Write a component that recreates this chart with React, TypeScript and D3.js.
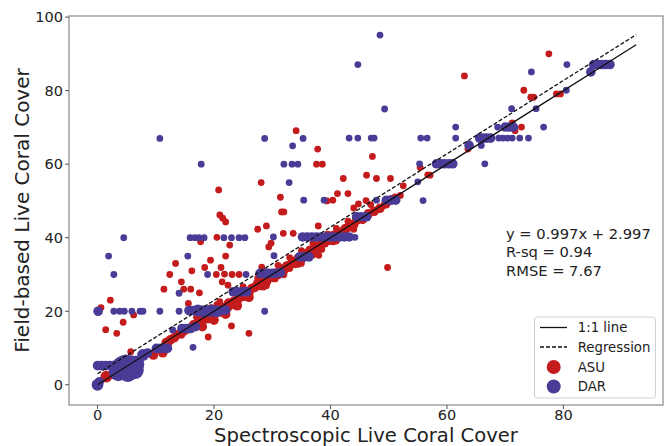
import React from "react";
import * as d3 from "d3";

// ---------- DATA ----------
// [spectroscopic %, field %, n overlapping observations]
const asuPoints: number[][] = [
  [1.5, 2.2, 3], [0.6, 21, 1], [2.2, 23, 1], [1.4, 15, 1], [3.3, 14, 1], [4.4, 17, 1], [6.2, 19, 1],
  [5.7, 9, 1], [9.6, 8.1, 2], [11.2, 8.7, 2], [12.0, 11.2, 2],
  [11.4, 26, 1], [12.4, 30, 1], [13.4, 33, 1], [14.4, 28, 1], [14.8, 26, 1], [16.0, 26, 1], [16.2, 31, 1],
  [15.6, 22.1, 1], [17.5, 25, 1], [18.4, 31.9, 1], [19.4, 33.9, 1], [20.5, 40.1, 1], [17.7, 38.9, 1],
  [22, 35, 1], [22.7, 38, 1], [21.2, 31.9, 1], [21.8, 30.1, 1], [21.4, 28, 1], [22.4, 27.1, 1],
  [23.1, 30, 1], [24.3, 30, 1], [20.4, 30, 1], [21, 46.2, 1], [21.5, 45.3, 1], [22, 44.3, 1],
  [20.8, 53, 1], [28.1, 55, 1], [31.4, 51, 1], [31.6, 47, 1], [32, 47, 1], [34.1, 69.1, 1],
  [37.8, 64.1, 1], [37.6, 60, 1], [38.6, 60, 1], [39.4, 50, 1], [40.4, 50.2, 1], [41.2, 52, 1],
  [43.0, 52, 1], [42.2, 56.1, 1], [46.2, 57, 1], [47.9, 56.1, 1], [50.3, 56.1, 1], [47.2, 62.1, 1],
  [27.5, 42.3, 1], [29.0, 43.2, 1], [31.9, 41.2, 1], [33.6, 41.2, 1], [37.9, 43.2, 1], [29.8, 38.5, 1],
  [29.4, 37.5, 1], [28.2, 32, 1], [38, 35.2, 1], [44.0, 48.1, 1], [44.8, 49.2, 1], [46.1, 50.1, 1],
  [55.4, 59.1, 1], [56.7, 57.1, 1], [57.1, 57, 1], [46.9, 49, 1], [51.1, 51.1, 1], [52.5, 54.1, 1],
  [19, 13, 1], [23, 16, 1], [26, 14, 1], [49.8, 31.9, 1],
  [63, 84, 1], [77.5, 90, 1], [73.2, 80.1, 1], [74.4, 78.2, 1], [74.9, 78.2, 1], [78.8, 79.1, 1],
  [79.5, 79.1, 1], [71.2, 71.2, 1], [71.7, 69.1, 1], [72.8, 70.1, 1], [63.6, 64.1, 1],
  // band along the 1:1 line
  [8.5, 8.8, 1], [10.5, 9.6, 1], [11.8, 11.5, 2], [12.5, 12.2, 2], [13.2, 12.8, 2], [13.6, 14, 1],
  [14.3, 13.8, 2], [14.8, 14.6, 2], [15.5, 15.2, 2], [16.0, 15.5, 2], [16.5, 16.3, 2], [17.0, 16.0, 2],
  [17.5, 17.2, 2], [18.0, 17.5, 2], [18.5, 18.2, 2], [19.0, 18.0, 2], [19.5, 19.3, 2], [20.0, 19.0, 2],
  [20.5, 20.3, 2], [21.0, 19.8, 2], [21.5, 21.0, 2], [22.0, 20.5, 2], [22.5, 22.2, 2], [23.0, 21.8, 2],
  [23.5, 22.8, 2], [24.0, 23.0, 2], [24.5, 24.2, 2], [25.0, 24.0, 2], [25.5, 25.3, 2], [26.0, 25.0, 2],
  [26.5, 26.2, 2], [27.0, 26.5, 2], [27.5, 27.5, 2], [28.0, 27.0, 2], [28.5, 28.3, 2], [29.0, 28.0, 2],
  [29.5, 29.5, 2], [30.0, 29.2, 2], [30.5, 30.3, 2], [31.0, 30.0, 2], [31.5, 31.5, 2], [32.0, 31.2, 2],
  [32.5, 32.3, 2], [33.0, 32.5, 2], [33.5, 33.5, 2], [34.0, 33.0, 2], [34.5, 34.5, 2], [35.0, 34.2, 2],
  [35.5, 35.6, 2], [36.0, 35.3, 2], [36.5, 36.6, 2], [37.0, 36.2, 2], [37.5, 37.5, 2], [38.0, 37.2, 2],
  [38.5, 38.5, 2], [39.0, 38.6, 2], [39.5, 39.6, 2], [40.0, 39.3, 2], [40.5, 40.6, 2], [41.0, 40.4, 2],
  [41.5, 41.5, 2], [42.0, 41.3, 2], [42.5, 42.4, 2], [43.0, 42.8, 2], [43.5, 43.5, 2], [44.0, 43.6, 2],
  [44.5, 44.8, 2], [45.5, 45.0, 2], [46.5, 46.5, 2], [47.5, 47.2, 2], [48.5, 48.0, 2], [49.5, 49.2, 2],
  [50.5, 50.3, 2], [52.0, 51.5, 1],
  [20.5, 21.8, 1], [22.5, 20.8, 1], [25.5, 23.8, 1], [28.5, 26.6, 1], [30.5, 28.8, 1], [33.0, 31.6, 1],
  [34.5, 32.8, 1], [36.5, 35.0, 1], [38.5, 36.8, 1], [40.5, 38.9, 1], [19.5, 21.0, 1], [24.0, 25.5, 1],
  [27.5, 29.0, 1], [31.0, 32.5, 1], [35.0, 36.5, 1], [39.5, 41.0, 1], [43, 44.5, 1],
  [18, 15.8, 2], [20, 17.6, 2], [22, 19.2, 2], [24, 21.5, 2], [26, 23.8, 2], [29, 26.9, 1], [32, 29.9, 1],
  [35, 33.0, 1], [37, 35.3, 1], [41, 39.1, 1], [44, 42.3, 1],
  [17, 18.4, 1], [21, 22.6, 1], [25, 26.7, 1], [29, 30.7, 1], [33, 34.6, 1], [37, 38.5, 1], [41, 42.5, 1],
];

const darPoints: number[][] = [
  [0, 0, 3], [0.3, 0.8, 2],
  [0, 5.2, 2], [0.7, 5.2, 2], [1.4, 5.2, 2], [2.1, 5.2, 2], [2.7, 5.2, 2],
  [3.6, 3.6, 8], [4.4, 4.6, 12], [5.6, 4.8, 12], [4.8, 5.8, 7], [6.4, 4.0, 7], [5.2, 3.2, 7], [6.6, 5.6, 6],
  [7.8, 8.1, 3], [8.6, 8.6, 2],
  [10.1, 9.9, 2], [10.8, 9.9, 2], [11.5, 9.9, 2], [12.0, 9.9, 2],
  [12.9, 14.9, 1], [14.5, 15.3, 2], [15.2, 15.3, 2], [16.0, 15.3, 2], [16.8, 15.8, 2], [16.4, 10.2, 1],
  [0.1, 20, 2], [2.8, 20, 1], [3.8, 20, 1], [4.6, 20, 1], [5.9, 20, 1], [7.3, 20, 1], [7.8, 20, 1],
  [10.7, 20, 1], [14.0, 20, 1],
  [15.7, 20.2, 2], [16.5, 20.2, 2], [17.2, 20.2, 3], [18.0, 20.0, 3], [18.8, 20.0, 3], [19.6, 20.2, 3],
  [20.4, 20.0, 3], [21.2, 20.2, 2], [22.0, 20.3, 2], [28.7, 20, 1],
  [14.0, 24.9, 1], [23.3, 25.3, 2], [24.0, 25.3, 2], [24.8, 25.3, 2], [25.6, 25.3, 2],
  [2.8, 30, 1], [18.9, 30, 1], [25.5, 30, 1], [27.9, 30.3, 2], [28.6, 30.3, 2], [29.3, 30.3, 2],
  [30.0, 30.3, 2], [30.7, 30.3, 2], [31.4, 30.5, 2],
  [1.9, 35, 1], [15.5, 35, 1], [30.3, 35.1, 1], [34.7, 34.8, 2], [35.5, 34.8, 2], [36.3, 34.8, 2],
  [4.5, 40, 1], [15.9, 40, 1], [16.7, 40, 1], [17.4, 40, 1], [18.3, 40, 1], [21.7, 40, 1], [23.0, 40, 1],
  [24.3, 40, 1], [25.3, 40, 1], [30.2, 40.2, 1], [35.2, 40.2, 2], [36.0, 40.2, 2], [36.8, 40.2, 2],
  [37.6, 40.2, 2], [38.4, 40.2, 2], [39.2, 40.2, 2], [40.0, 40.2, 2], [40.8, 40.2, 2], [41.6, 40.2, 2],
  [42.4, 40.2, 2], [43.2, 40.2, 2], [44.2, 40.1, 1],
  [44.5, 45.7, 2], [45.3, 45.7, 2], [46.2, 45.7, 2],
  [35.4, 50.2, 1], [38.9, 50.2, 1], [47.9, 50.2, 1], [49.6, 50.2, 2], [50.4, 50.2, 2], [51.2, 50.2, 2],
  [55.9, 50.1, 1], [32.9, 55, 1], [55.0, 55.2, 1],
  [17.8, 60, 1], [32.0, 60, 1], [33.4, 60, 1], [34.4, 60, 1], [55.3, 60.1, 1], [58.2, 60.1, 2],
  [58.9, 60.1, 2], [59.6, 60.1, 2], [60.3, 60.1, 2], [61.0, 60.1, 2], [66.5, 60.1, 1],
  [33.5, 65, 1], [63.8, 65.1, 2], [65.9, 65.1, 1],
  [10.7, 67, 1], [28.7, 67, 1], [35.3, 67, 1], [43.2, 67.1, 1], [44.7, 67.1, 1], [47.0, 67.1, 1],
  [47.5, 67.1, 1], [55.5, 67.1, 1], [56.6, 67.1, 1], [61.5, 67.1, 1], [65.6, 67.1, 2], [66.2, 67.1, 2],
  [66.8, 67.1, 2], [67.5, 67.1, 2], [68.9, 67.1, 1], [69.6, 67.1, 1], [70.4, 67.1, 1], [71.2, 67.1, 1],
  [72.5, 67.1, 1], [74.0, 67.1, 1],
  [61.5, 70.1, 1], [68.7, 70.1, 1], [70.0, 70.1, 2], [70.7, 70.1, 2], [71.4, 70.1, 2], [76.6, 70.1, 1],
  [49.3, 75, 1], [71.1, 75.1, 1], [75.3, 75.1, 1], [80.5, 80.1, 1],
  [74.5, 85.1, 1], [84.7, 85.1, 2],
  [44.7, 87.1, 1], [80.6, 87.1, 1], [85.2, 87.1, 2], [85.9, 87.1, 2], [86.6, 87.1, 2], [87.3, 87.1, 2],
  [88.0, 87.1, 2], [48.5, 95.1, 1],
];

const xTicks = [0, 20, 40, 60, 80];
const yTicks = [0, 20, 40, 60, 80, 100];
const lineRange = [0, 92.5];
const regSlope = 0.997;
const regIntercept = 2.997;
const statsLines = ["y = 0.997x + 2.997", "R-sq = 0.94", "RMSE = 7.67"];
const legendLabels = ["1:1 line", "Regression", "ASU", "DAR"];
const xTitle = "Spectroscopic Live Coral Cover";
const yTitle = "Field-based Live Coral Cover";

// ---------- CHART ----------
const W = 664, H = 446;
const M = { left: 69, right: 663, top: 16, bottom: 405 };
const RED = "#c41b1c";
const BLUE = "#4a3b97";
const FONT = "DejaVu Sans, sans-serif";

export default function App() {
  const x = d3.scaleLinear().domain([-4.9, 97.1]).range([M.left, M.right]);
  const y = d3.scaleLinear().domain([-5.5, 100.3]).range([M.bottom, M.top]);
  const r = d3.scaleSqrt().domain([0, 1]).range([0, 3.4]);

  const oneToOne = d3.line<number>().x((v) => x(v)).y((v) => y(v))(lineRange) || "";
  const reg = d3.line<number>().x((v) => x(v)).y((v) => y(regSlope * v + regIntercept))(lineRange) || "";

  const lg = { x: 534.5, y: 317, w: 121, h: 81 };
  const rowY = [327.5, 347, 367, 386.5];

  return (
    <svg width={W} height={H} style={{ position: "absolute", left: 0, top: 0, background: "#fff" }} fontFamily={FONT}>
      <rect x={0} y={0} width={W} height={H} fill="#fff" />
      <defs>
        <clipPath id="plot">
          <rect x={M.left} y={M.top} width={M.right - M.left} height={M.bottom - M.top} />
        </clipPath>
      </defs>
      <g clipPath="url(#plot)">
        {asuPoints.map((p, i) => (
          <circle key={"a" + i} cx={x(p[0])} cy={y(p[1])} r={r(p[2])} fill={RED} />
        ))}
        {darPoints.map((p, i) => (
          <circle key={"d" + i} cx={x(p[0])} cy={y(p[1])} r={r(p[2])} fill={BLUE} />
        ))}
        <path d={oneToOne} stroke="#111" strokeWidth={1.3} fill="none" />
        <path d={reg} stroke="#111" strokeWidth={1.3} fill="none" strokeDasharray="4,2" />
      </g>
      {/* frame */}
      <rect x={M.left} y={M.top} width={M.right - M.left} height={M.bottom - M.top} fill="none" stroke="#8a8a8a" strokeWidth={1.2} />
      {/* ticks */}
      {xTicks.map((t) => (
        <g key={"xt" + t}>
          <line x1={x(t)} x2={x(t)} y1={M.bottom} y2={M.bottom + 4} stroke="#555" strokeWidth={1} />
          <text x={x(t)} y={420} textAnchor="middle" fontSize={14.5} fill="#222">{t}</text>
        </g>
      ))}
      {yTicks.map((t) => (
        <g key={"yt" + t}>
          <line x1={M.left - 4} x2={M.left} y1={y(t)} y2={y(t)} stroke="#555" strokeWidth={1} />
          <text x={63} y={y(t) + 5.3} textAnchor="end" fontSize={14.5} fill="#222">{t}</text>
        </g>
      ))}
      <text x={(M.left + M.right) / 2} y={442} textAnchor="middle" fontSize={19.6} fill="#222">{xTitle}</text>
      <text transform={`translate(29,${(M.top + M.bottom) / 2}) rotate(-90)`} textAnchor="middle" fontSize={20} fill="#222">{yTitle}</text>
      {/* stats */}
      {statsLines.map((s, i) => (
        <text key={"s" + i} x={506} y={239 + i * 18.3} fontSize={14.7} fill="#222">{s}</text>
      ))}
      {/* legend */}
      <rect x={lg.x} y={lg.y} width={lg.w} height={lg.h} rx={3} fill="#fff" stroke="#d0d0d0" strokeWidth={1} />
      <line x1={540} x2={567} y1={rowY[0]} y2={rowY[0]} stroke="#111" strokeWidth={1.3} />
      <line x1={540} x2={567} y1={rowY[1]} y2={rowY[1]} stroke="#111" strokeWidth={1.3} strokeDasharray="4,2" />
      <circle cx={553.7} cy={rowY[2]} r={7} fill={RED} />
      <circle cx={553.7} cy={rowY[3]} r={7} fill={BLUE} />
      {legendLabels.map((l, i) => (
        <text key={"l" + i} x={577.7} y={rowY[i] + 4.8} fontSize={13.3} fill="#222">{l}</text>
      ))}
    </svg>
  );
}
